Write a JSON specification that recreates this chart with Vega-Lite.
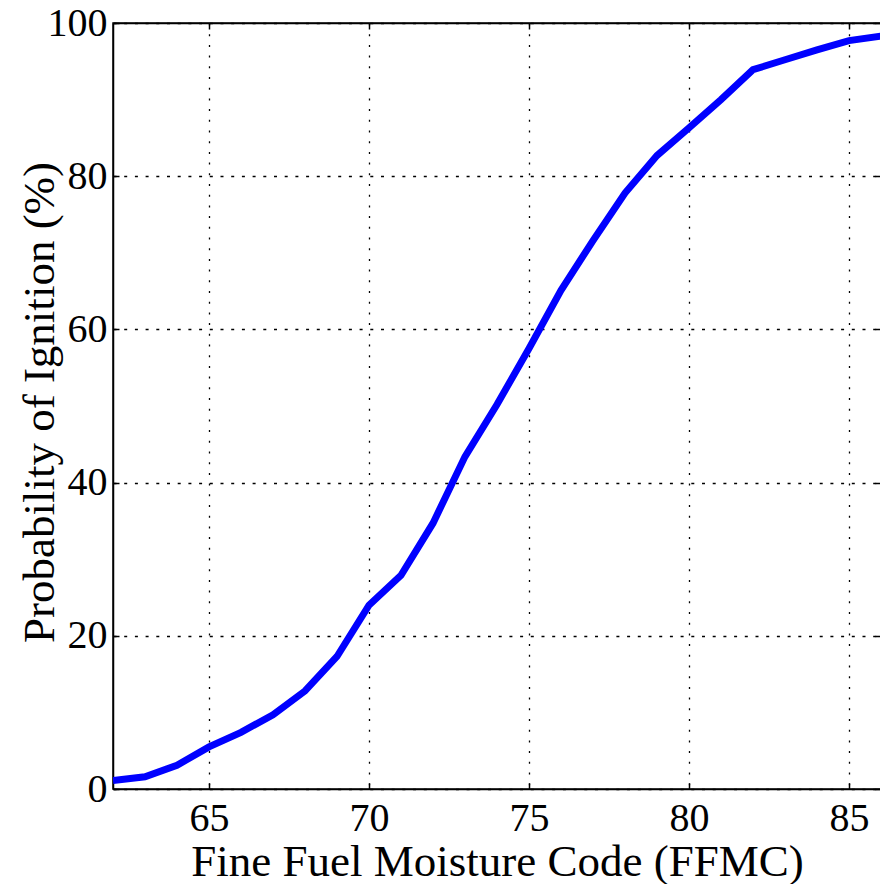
{
  "$schema": "https://vega.github.io/schema/vega-lite/v6.json",
  "width": 768,
  "height": 766,
  "autosize": "none",
  "padding": {"left": 113, "top": 23, "right": 0, "bottom": 95},
  "background": "white",
  "config": {
    "view": {"stroke": "black", "strokeWidth": 1.5},
    "font": "Liberation Serif",
    "axis": {
      "labelFont": "Liberation Serif",
      "titleFont": "Liberation Serif",
      "labelColor": "black",
      "titleColor": "black",
      "titleFontWeight": "normal",
      "domainColor": "black",
      "domainWidth": 1.5,
      "tickColor": "black",
      "tickWidth": 1.5,
      "tickSize": -6,
      "labelFontSize": 40,
      "titleFontSize": 45,
      "gridColor": "black",
      "gridOpacity": 1,
      "gridWidth": 1.3
    }
  },
  "data": {
    "values": [
      {"ffmc": 62, "p": 1.1},
      {"ffmc": 63, "p": 1.6},
      {"ffmc": 64, "p": 3.1},
      {"ffmc": 65, "p": 5.5},
      {"ffmc": 66, "p": 7.4},
      {"ffmc": 67, "p": 9.7},
      {"ffmc": 68, "p": 12.8},
      {"ffmc": 69, "p": 17.3},
      {"ffmc": 70, "p": 24.0},
      {"ffmc": 71, "p": 27.9},
      {"ffmc": 72, "p": 34.7},
      {"ffmc": 73, "p": 43.4},
      {"ffmc": 74, "p": 50.2},
      {"ffmc": 75, "p": 57.5},
      {"ffmc": 76, "p": 65.1},
      {"ffmc": 77, "p": 71.6},
      {"ffmc": 78, "p": 77.8},
      {"ffmc": 79, "p": 82.7},
      {"ffmc": 80, "p": 86.3},
      {"ffmc": 81, "p": 90.0},
      {"ffmc": 82, "p": 93.9},
      {"ffmc": 83, "p": 95.2},
      {"ffmc": 84, "p": 96.5},
      {"ffmc": 85, "p": 97.7},
      {"ffmc": 86, "p": 98.3}
    ]
  },
  "layer": [
    {
      "mark": {"type": "line", "color": "#0000ff", "strokeWidth": 7, "clip": true},
      "encoding": {
        "x": {
          "field": "ffmc", "type": "quantitative",
          "scale": {"domain": [62, 86], "nice": false, "zero": false},
          "axis": {
            "title": "Fine Fuel Moisture Code (FFMC)",
            "values": [65, 70, 75, 80, 85],
            "grid": true, "gridDash": [2, 8.7],
            "labelPadding": 15,
            "labelBaseline": "top",
            "titleBaseline": "alphabetic",
            "titleY": 86
          }
        },
        "y": {
          "field": "p", "type": "quantitative",
          "scale": {"domain": [0, 100], "nice": false},
          "axis": {
            "title": "Probability of Ignition (%)",
            "values": [0, 20, 40, 60, 80, 100],
            "grid": true, "gridDash": [3, 7.7],
            "labelPadding": 12,
            "titleBaseline": "alphabetic",
            "titleX": -60,
            "titleY": 379
          }
        }
      }
    },
    {
      "mark": {"type": "line", "opacity": 0},
      "encoding": {
        "x": {
          "field": "ffmc", "type": "quantitative",
          "axis": {"orient": "top", "title": null, "labels": false, "grid": false, "values": [65, 70, 75, 80, 85]}
        },
        "y": {
          "field": "p", "type": "quantitative",
          "axis": {"orient": "right", "title": null, "labels": false, "grid": false, "values": [0, 20, 40, 60, 80, 100]}
        }
      }
    }
  ],
  "resolve": {"axis": {"x": "independent", "y": "independent"}}
}
